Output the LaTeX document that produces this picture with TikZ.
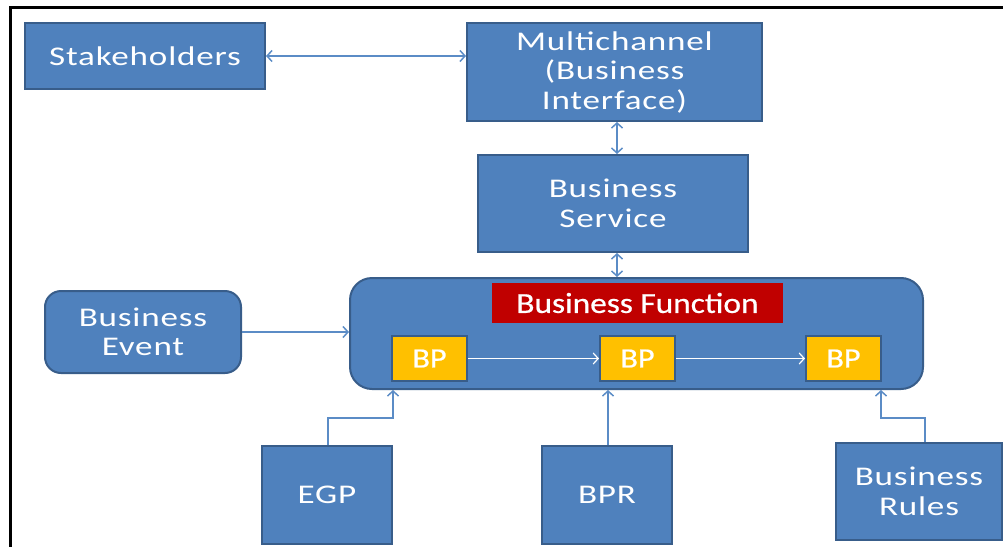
\documentclass[tikz,border=0pt]{standalone}
\usepackage{fontspec}
\setmainfont{Carlito}
\newfontfamily\boxfont[FakeStretch=1.3,LetterSpace=3]{Carlito}
\newfontfamily\titlefont[FakeStretch=1.15,FakeBold=0.6]{Carlito}
\usetikzlibrary{arrows.meta}
\definecolor{boxblue}{HTML}{4F81BD}
\definecolor{boxedge}{HTML}{385D8A}
\definecolor{linkblue}{HTML}{5B8CC6}
\definecolor{bpgold}{HTML}{FFC000}
\definecolor{titlered}{HTML}{C00000}
\tikzset{
  blk/.style={draw=boxedge, line width=2pt, fill=boxblue, text=white,
    font=\boxfont\fontsize{27}{29.5}\selectfont, align=center,
    inner sep=0pt},
  roundblk/.style={blk, rounded corners=16pt},
  bpbox/.style={draw=boxedge, line width=2pt, fill=bpgold, text=white,
    font=\titlefont\fontsize{28}{29}\selectfont, inner sep=0pt,
    minimum width=75pt, minimum height=45pt},
  titlebox/.style={fill=titlered, text=white, inner sep=0pt,
    font=\titlefont\fontsize{29}{30}\selectfont,
    minimum width=291pt, minimum height=40pt},
  link/.style={draw=linkblue, line width=1.5pt,
    arrows={Straight Barb[length=5pt,width=11pt]-Straight Barb[length=5pt,width=11pt]}},
  onelink/.style={draw=linkblue, line width=1.5pt,
    -{Straight Barb[length=5pt,width=11pt]}},
  flow/.style={draw=white, line width=1.2pt,
    -{Straight Barb[length=5pt,width=11pt]}},
}
\begin{document}
\begin{tikzpicture}[x=1pt,y=-1pt]
\useasboundingbox (0,0) rectangle (1003,546);
% page frame (top and left edges)
\draw[line width=3pt] (10,548) -- (10,7) -- (1005,7);

% top row
\node[blk, minimum width=240pt, minimum height=66pt] (stake) at (145,56) {Stakeholders};
\node[blk, minimum width=295pt, minimum height=98pt] (multi) at (614.5,72)
  {Multichannel\\(Business\\Interface)};
\node[blk, minimum width=270pt, minimum height=97pt] (service) at (613,203.5)
  {Business\\Service};

% business function container
\node[roundblk, rounded corners=22pt, minimum width=573pt, minimum height=111pt] (func) at (636.5,333.5) {};
\node[titlebox] (title) at (637.5,303) {Business Function};
\node[bpbox] (bp1) at (429.5,358.5) {BP};
\node[bpbox] (bp2) at (637.5,358.5) {BP};
\node[bpbox] (bp3) at (843.5,358.5) {BP};

% side and bottom inputs
\node[roundblk, minimum width=196pt, minimum height=82pt] (event) at (143,332) {Business\\Event};
\node[blk, minimum width=130pt, minimum height=98pt] (egp) at (327,495) {EGP};
\node[blk, minimum width=130pt, minimum height=98pt] (bpr) at (607,495) {BPR};
\node[blk, minimum width=166pt, minimum height=97pt] (rules) at (919,491.5) {Business\\Rules};

% connectors
\draw[link] (stake.east) -- (multi.west |- stake.east);
\draw[link] (multi.south -| 617,0) -- (service.north -| 617,0);
\draw[link] (service.south -| 617,0) -- (func.north -| 617,0);
\draw[onelink] (event.east) -- (func.west |- event.east);
\draw[flow] (bp1.east) -- (bp2.west);
\draw[flow] (bp2.east) -- (bp3.west);

\coordinate (egpbend) at (328,418);
\coordinate (rulesbend) at (925,418);
\draw[onelink] (egp.north -| egpbend) -- (egpbend) -- (egpbend -| 393,0) -- (func.south -| 393,0);
\draw[onelink] (bpr.north -| 608,0) -- (func.south -| 608,0);
\draw[onelink] (rules.north -| rulesbend) -- (rulesbend) -- (rulesbend -| 881,0) -- (func.south -| 881,0);
\end{tikzpicture}
\end{document}
